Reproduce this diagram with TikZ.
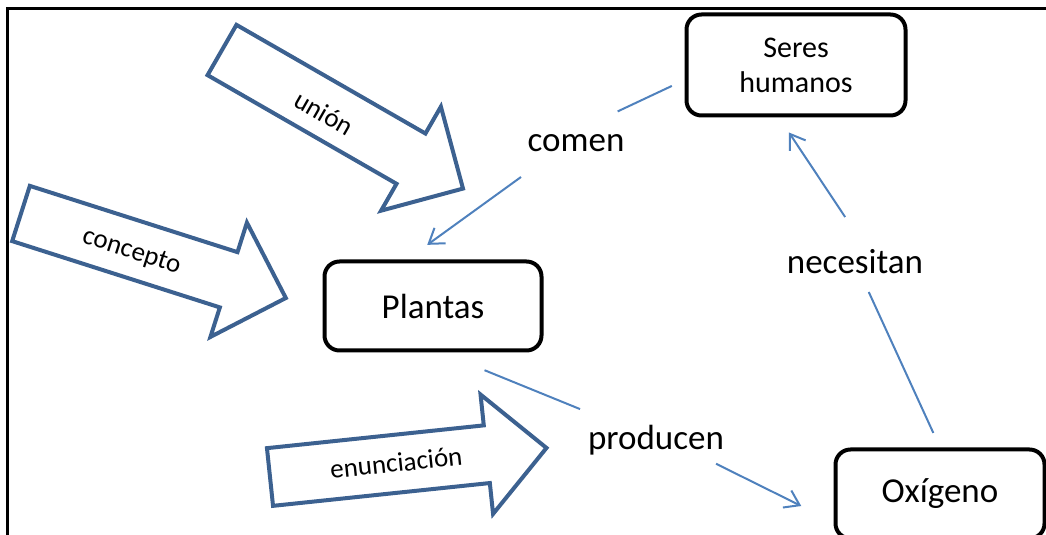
\documentclass[tikz,border=0pt]{standalone}
\usepackage{fontspec}
\setmainfont{Carlito}
\usetikzlibrary{arrows.meta}
\definecolor{linkblue}{HTML}{4F81BD}
\definecolor{arrowblue}{HTML}{3C6190}
\def\bigarrow{-- ++(0,-29) -- ++(218,0) -- ++(0,-31) -- ++(60,60) -- ++(-60,60) -- ++(0,-31) -- ++(-218,0) -- cycle}
\tikzset{
  concept/.style={draw, rounded corners=15pt, line width=4pt, font=\fontsize{35}{40}\selectfont},
  link/.style={draw=linkblue, line width=2pt},
  tip/.style={-{Straight Barb[length=14pt,width=19pt]}},
  linklabel/.style={font=\fontsize{35}{40}\selectfont, inner sep=0pt},
  blockarr/.style={draw=arrowblue, line width=4pt},
  arrlabel/.style={font=\fontsize{27}{30}\selectfont, inner sep=0pt, transform shape}
}
\begin{document}
\begin{tikzpicture}[x=1pt,y=1pt]
\useasboundingbox (0,0) rectangle (1046,535);
\draw[line width=3pt] (7,0) -- (7,526) -- (1046,526);

% boxes
\node[concept, minimum width=217pt, minimum height=89pt] (plantas) at (433,229) {Plantas};
\node[concept, minimum width=219pt, minimum height=101pt, font=\fontsize{30}{35}\selectfont, align=center] (seres) at (796,470) {Seres\\humanos};
\node[concept, minimum width=209pt, minimum height=89pt] (oxigeno) at (940,41) {Oxígeno};

% link words
\node[linklabel] (comen) at (576,392) {comen};
\node[linklabel] (producen) at (656,95) {producen};
\node[linklabel] (necesitan) at (855,273) {necesitan};

% connectors
\draw[link, shorten <=14pt, shorten >=46pt] ([yshift=-15pt]seres.west) -- ([yshift=12pt]comen.center);
\draw[link, tip, shorten <=58pt, shorten >=25pt] ([xshift=-8pt]comen.center) -- ([xshift=-26pt]plantas.north);
\draw[link, shorten <=47pt, shorten >=82pt] ([xshift=8pt]plantas.south) -- (producen.center);
\draw[link, tip, shorten <=67pt, shorten >=36pt] ([yshift=6pt]producen.center) -- ([yshift=-28pt]oxigeno.west);
\draw[link, shorten <=16pt, shorten >=33pt] (oxigeno.north) -- (necesitan.center);
\draw[link, tip, shorten <=54pt, shorten >=18pt] ([xshift=20pt]necesitan.center) -- ([xshift=-17pt]seres.south);

% block arrows
\begin{scope}[shift={(222,485)}, rotate=-29.9]
  \draw[blockarr] (0,0) \bigarrow;
  \node[arrlabel] (union) at (120,-4) {unión};
\end{scope}
\begin{scope}[shift={(21,321.5)}, rotate=-17.7]
  \draw[blockarr] (0,0) \bigarrow;
  \node[arrlabel] (concepto) at (117,-3) {concepto};
\end{scope}
\begin{scope}[shift={(270,58)}, rotate=6]
  \draw[blockarr] (0,0) \bigarrow;
  \node[arrlabel] (enunciacion) at (127,1) {enunciación};
\end{scope}
\end{tikzpicture}
\end{document}
